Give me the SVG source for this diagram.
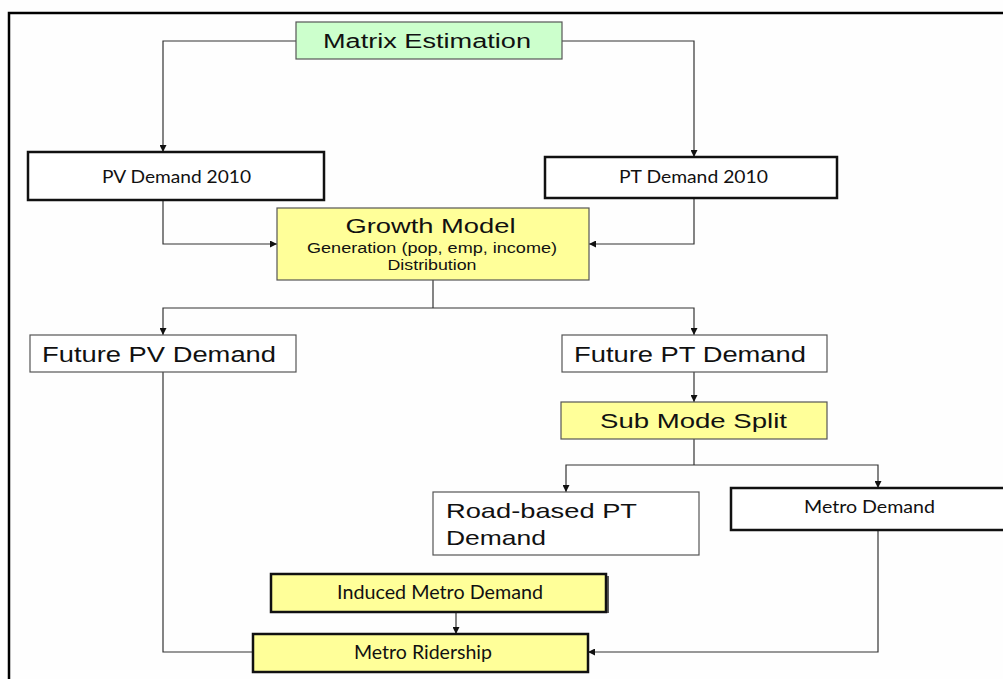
<svg xmlns="http://www.w3.org/2000/svg" width="1003" height="679" viewBox="0 0 1003 679">
<defs>
<style>
.a{font-family:"Liberation Sans",Arial,sans-serif;fill:#111}
.c{font-family:Lato,"Liberation Sans",sans-serif;fill:#111}
.thin{stroke:#555;stroke-width:1.2}
.thick{stroke:#111;stroke-width:2.5}
.y{fill:#ffff99}
.w{fill:#fff}
.g{fill:#ccffcc}
.ln{fill:none;stroke:#333;stroke-width:1.2}
</style>
<marker id="ah" viewBox="0 0 10 10" refX="10" refY="5" markerWidth="7" markerHeight="7" markerUnits="userSpaceOnUse" orient="auto-start-reverse">
<path d="M0,0 L10,5 L0,10 z" fill="#111"/>
</marker>
</defs>
<rect x="0" y="0" width="1003" height="679" fill="#fefefe"/>
<path d="M9,679 V13 H1003" fill="none" stroke="#000" stroke-width="2.5"/>
<g id="connectors">
<path class="ln" d="M296,41 H163 V152" marker-end="url(#ah)"/>
<path class="ln" d="M562,41 H694 V157" marker-end="url(#ah)"/>
<path class="ln" d="M163,200 V244 H277" marker-end="url(#ah)"/>
<path class="ln" d="M694,198 V244 H589" marker-end="url(#ah)"/>
<path class="ln" d="M433,280 V308"/>
<path class="ln" d="M163,335 V308 H694 V335" marker-start="url(#ah)" marker-end="url(#ah)"/>
<path class="ln" d="M694,372 V402" marker-end="url(#ah)"/>
<path class="ln" d="M694,439 V465"/>
<path class="ln" d="M566,492 V465 H878 V488" marker-start="url(#ah)" marker-end="url(#ah)"/>
<path class="ln" d="M163,372 V652 H253"/>
<path class="ln" d="M878,530 V652 H588" marker-end="url(#ah)"/>
<path class="ln" d="M456,612 V634" marker-end="url(#ah)"/>
</g>
<g id="matrix">
<rect x="296" y="22" width="266" height="37" class="g thin"/>
<text x="427" y="48" class="a" font-size="20" text-anchor="middle" textLength="208" lengthAdjust="spacingAndGlyphs">Matrix Estimation</text>
</g>
<g id="pv2010">
<rect x="28" y="152" width="296" height="48" class="w thick"/>
<text x="176.5" y="183" class="c" font-size="18" text-anchor="middle" textLength="149" lengthAdjust="spacingAndGlyphs">PV Demand 2010</text>
</g>
<g id="pt2010">
<rect x="545" y="157" width="292" height="41" class="w thick"/>
<text x="693.5" y="183" class="c" font-size="18" text-anchor="middle" textLength="149" lengthAdjust="spacingAndGlyphs">PT Demand 2010</text>
</g>
<g id="growth">
<rect x="277" y="208" width="312" height="72" class="y thin"/>
<text x="430.5" y="233" class="a" font-size="21" text-anchor="middle" textLength="170" lengthAdjust="spacingAndGlyphs">Growth Model</text>
<text x="432" y="253" class="a" font-size="14" text-anchor="middle" textLength="250" lengthAdjust="spacingAndGlyphs">Generation (pop, emp, income)</text>
<text x="432" y="270" class="a" font-size="14" text-anchor="middle" textLength="89" lengthAdjust="spacingAndGlyphs">Distribution</text>
</g>
<g id="futurepv">
<rect x="30" y="335" width="266" height="37" class="w thin"/>
<text x="42" y="362" class="a" font-size="22" textLength="234" lengthAdjust="spacingAndGlyphs">Future PV Demand</text>
</g>
<g id="futurept">
<rect x="562" y="335" width="265" height="37" class="w thin"/>
<text x="574" y="362" class="a" font-size="22" textLength="232" lengthAdjust="spacingAndGlyphs">Future PT Demand</text>
</g>
<g id="submode">
<rect x="561" y="402" width="266" height="37" class="y thin"/>
<text x="693.5" y="428" class="a" font-size="21" text-anchor="middle" textLength="187" lengthAdjust="spacingAndGlyphs">Sub Mode Split</text>
</g>
<g id="roadpt">
<rect x="433" y="492" width="266" height="63" class="w thin"/>
<text x="446" y="518" class="a" font-size="21" textLength="191" lengthAdjust="spacingAndGlyphs">Road-based PT</text>
<text x="446" y="545" class="a" font-size="21" textLength="100" lengthAdjust="spacingAndGlyphs">Demand</text>
</g>
<g id="metrodemand">
<rect x="731" y="488" width="280" height="42" class="w thick"/>
<text x="869.5" y="513" class="c" font-size="18" text-anchor="middle" textLength="131" lengthAdjust="spacingAndGlyphs">Metro Demand</text>
</g>
<g id="induced">
<line x1="608" y1="576" x2="608" y2="613" stroke="#222" stroke-width="1.5"/>
<rect x="271" y="574" width="335" height="38" class="y thick"/>
<text x="440" y="599" class="c" font-size="19" text-anchor="middle" textLength="206" lengthAdjust="spacingAndGlyphs">Induced Metro Demand</text>
</g>
<g id="ridership">
<rect x="253" y="634" width="335" height="38" class="y thick"/>
<text x="423" y="659" class="c" font-size="19" text-anchor="middle" textLength="138" lengthAdjust="spacingAndGlyphs">Metro Ridership</text>
</g>
</svg>
